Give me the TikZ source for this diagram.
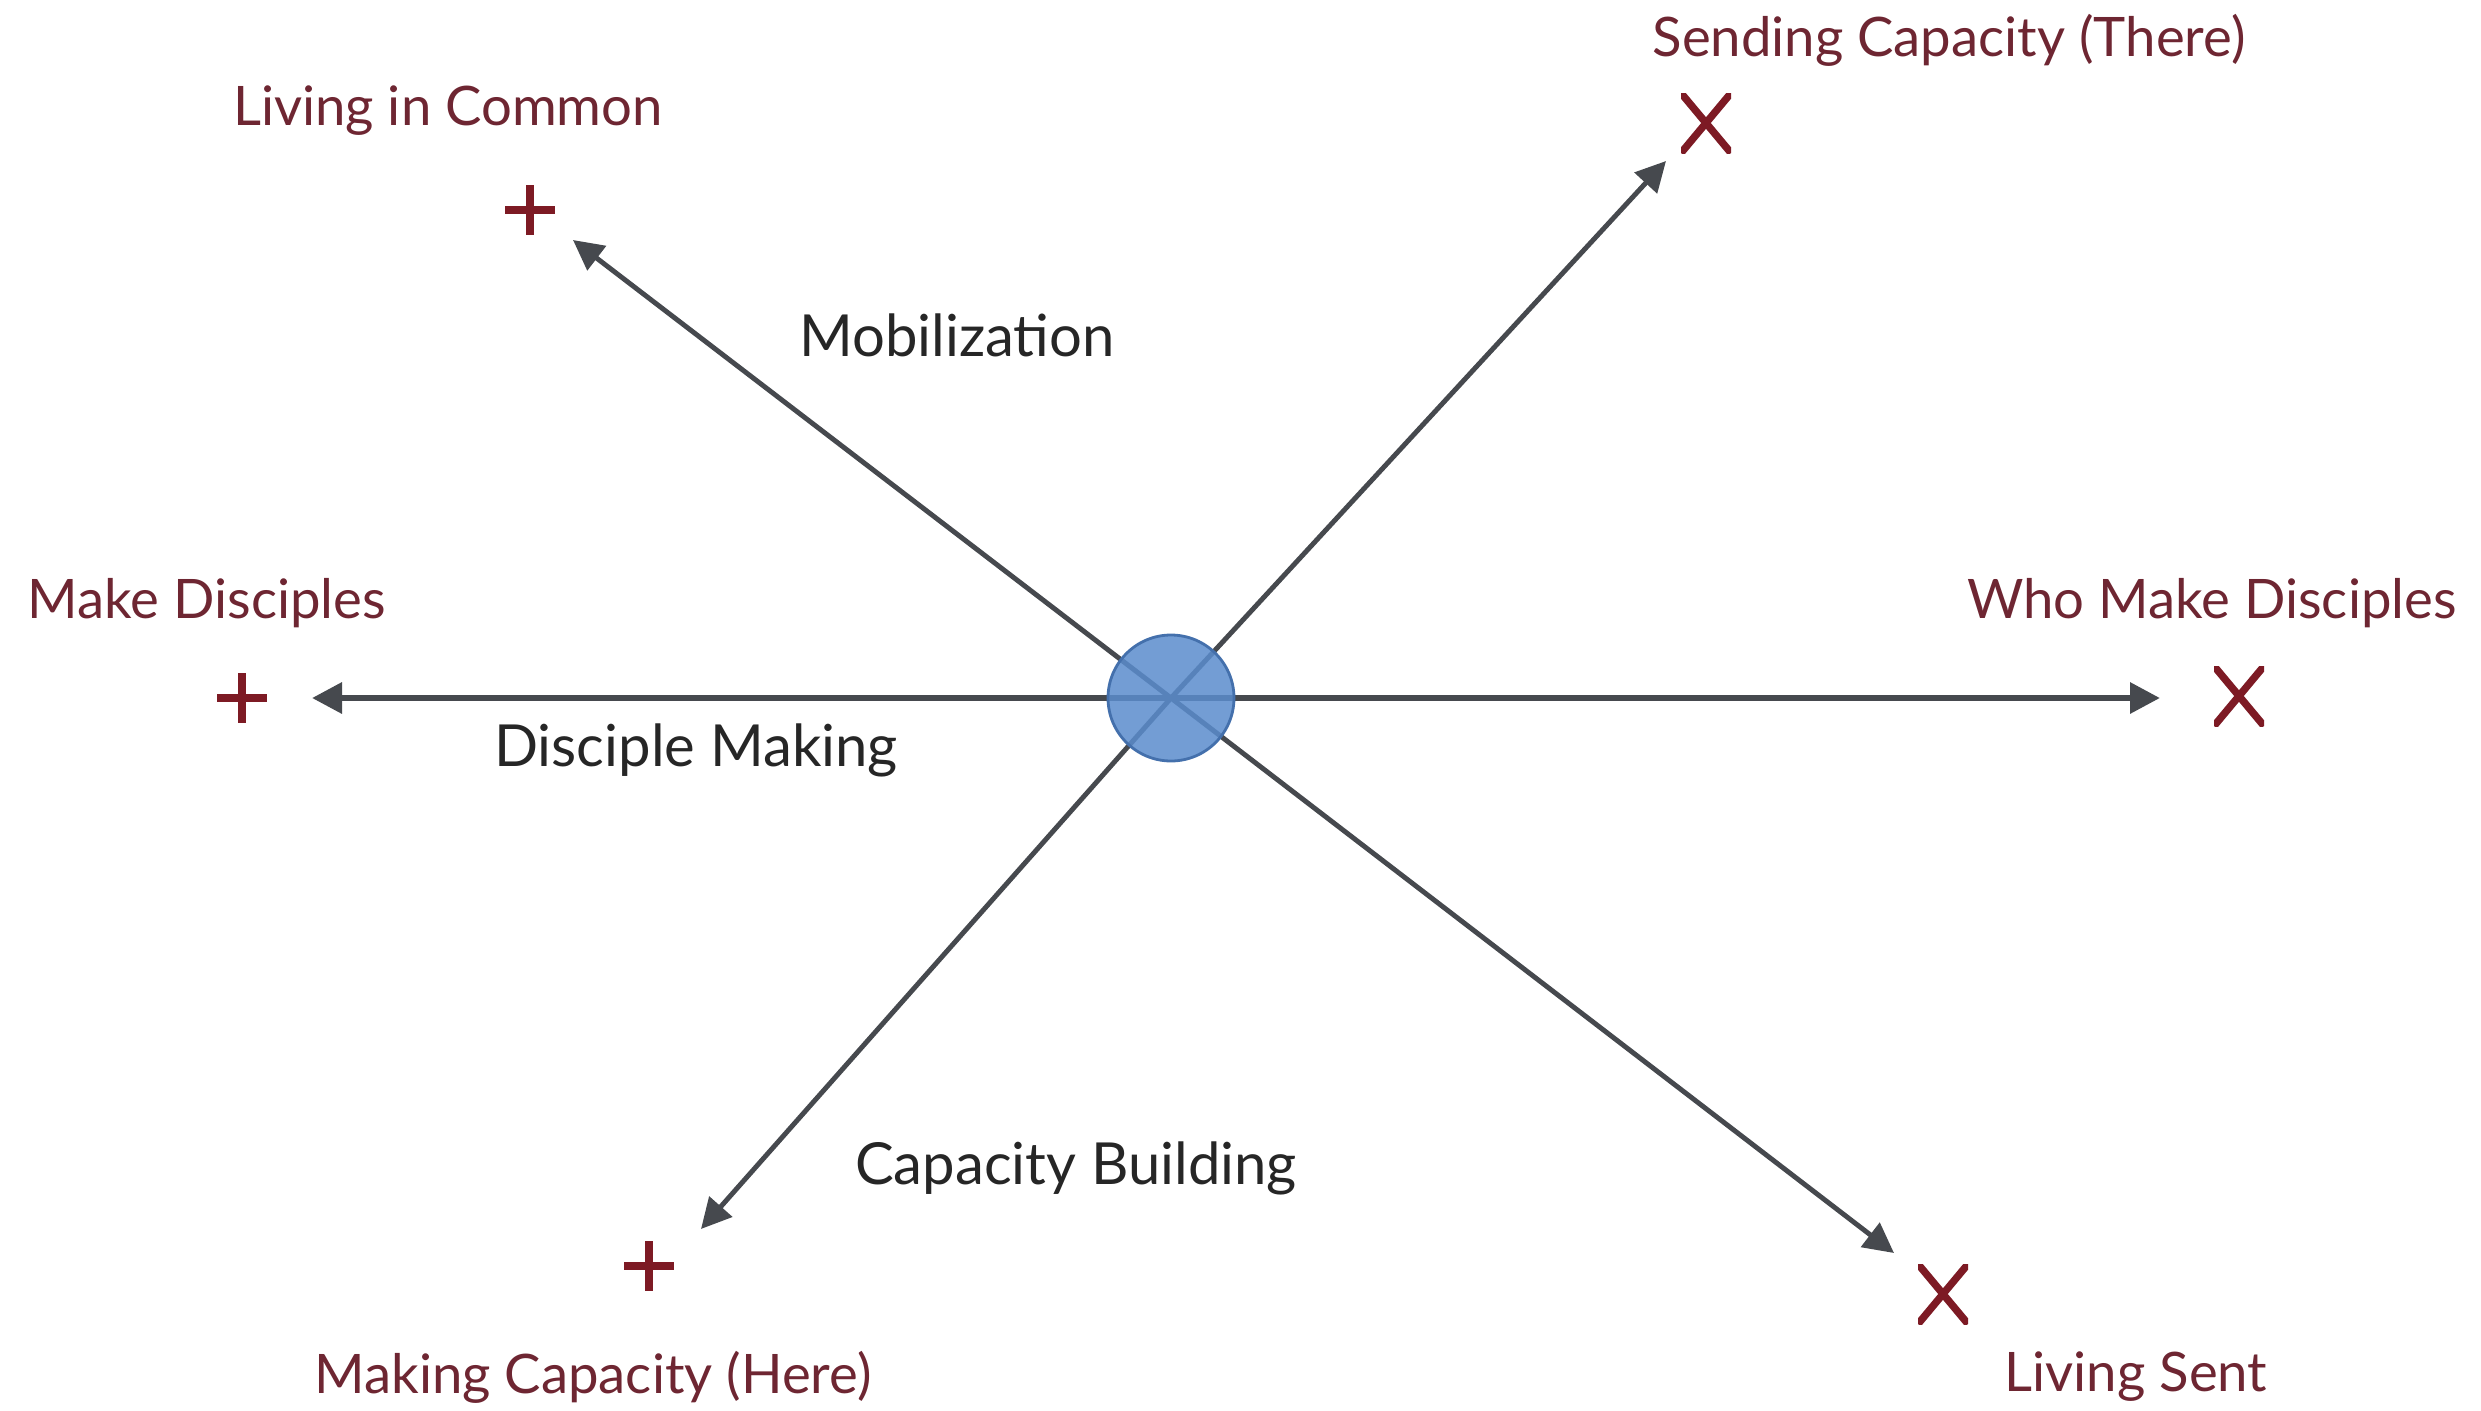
\documentclass[tikz,border=0pt]{standalone}
\usepackage{fontspec}
\setmainfont{Lato}
\usetikzlibrary{positioning, arrows.meta}
\definecolor{markred}{RGB}{125,26,36}
\definecolor{labelred}{RGB}{110,38,50}
\definecolor{axisgray}{RGB}{70,73,78}
\definecolor{hubblue}{RGB}{90,140,205}
\definecolor{hubedge}{RGB}{68,112,172}

\tikzset{
  axis/.style={draw=axisgray, line width=1.4pt, -{Triangle[length=3mm, width=3mm]}},
  endlabel/.style={text=labelred, font=\fontsize{15.5}{18}\selectfont, inner sep=0pt},
  axislabel/.style={text=black!85, font=\fontsize{16.5}{19}\selectfont, inner sep=0pt},
  plusmark/.style={minimum width=0.5cm, minimum height=0.5cm, inner sep=0pt,
    path picture={\draw[markred, line width=2.1pt]
      (path picture bounding box.north) -- (path picture bounding box.south)
      (path picture bounding box.west) -- (path picture bounding box.east);}},
  crossmark/.style={minimum width=0.5cm, minimum height=0.6cm, inner sep=0pt,
    path picture={\draw[markred, line width=2.1pt]
      (path picture bounding box.north west) -- (path picture bounding box.south east)
      (path picture bounding box.north east) -- (path picture bounding box.south west);}},
  hub/.style={circle, minimum size=1.26cm, inner sep=0pt, fill=hubblue, fill opacity=0.85, draw=hubedge, line width=0.8pt}
}

\begin{document}
\begin{tikzpicture}
    \useasboundingbox (0,0) rectangle (24.81,-14.11);

    \coordinate (o) at (11.71,-6.98);
    \coordinate (tipW) at (3.12,-6.98);
    \coordinate (tipE) at (21.60,-6.98);
    \coordinate (tipNW) at (5.73,-2.40);
    \coordinate (tipNE) at (16.66,-1.61);
    \coordinate (tipSW) at (7.01,-12.29);
    \coordinate (tipSE) at (18.94,-12.53);

    \draw[axis, line width=1.8pt] (o) -- (tipW);
    \draw[axis, line width=1.8pt] (o) -- (tipE);
    \draw[axis] (o) -- (tipNW);
    \draw[axis] (o) -- (tipNE);
    \draw[axis] (o) -- (tipSW);
    \draw[axis] (o) -- (tipSE);

    \node[hub] (hub) at (o) {};

    % ends of the axes
    \node[plusmark] (mCommon) at (5.30,-2.10) {};
    \node[crossmark] (mThere) at (17.06,-1.23) {};
    \node[plusmark] (mMake) at (2.42,-6.98) {};
    \node[crossmark] (mWho) at (22.39,-6.96) {};
    \node[plusmark] (mHere) at (6.49,-12.66) {};
    \node[crossmark] (mSent) at (19.43,-12.94) {};

    \node[endlabel] (common) at (4.48,-1.11) {Living in Common};
    \node[endlabel] (there) at (19.49,-0.40) {Sending Capacity (There)};
    \node[endlabel] (make) at (2.07,-6.03) {Make Disciples};
    \node[endlabel] (who) at (22.12,-6.03) {Who Make Disciples};
    \node[endlabel] (here) at (5.93,-13.77) {Making Capacity (Here)};
    \node[endlabel] (sent) at (21.36,-13.77) {Living Sent};

    \node[axislabel] (mobil) at (9.57,-3.35) {Mobilization};
    \node[axislabel] (disc) at (6.96,-7.50) {Disciple Making};
    \node[axislabel] (build) at (10.76,-11.68) {Capacity Building};
\end{tikzpicture}
\end{document}
